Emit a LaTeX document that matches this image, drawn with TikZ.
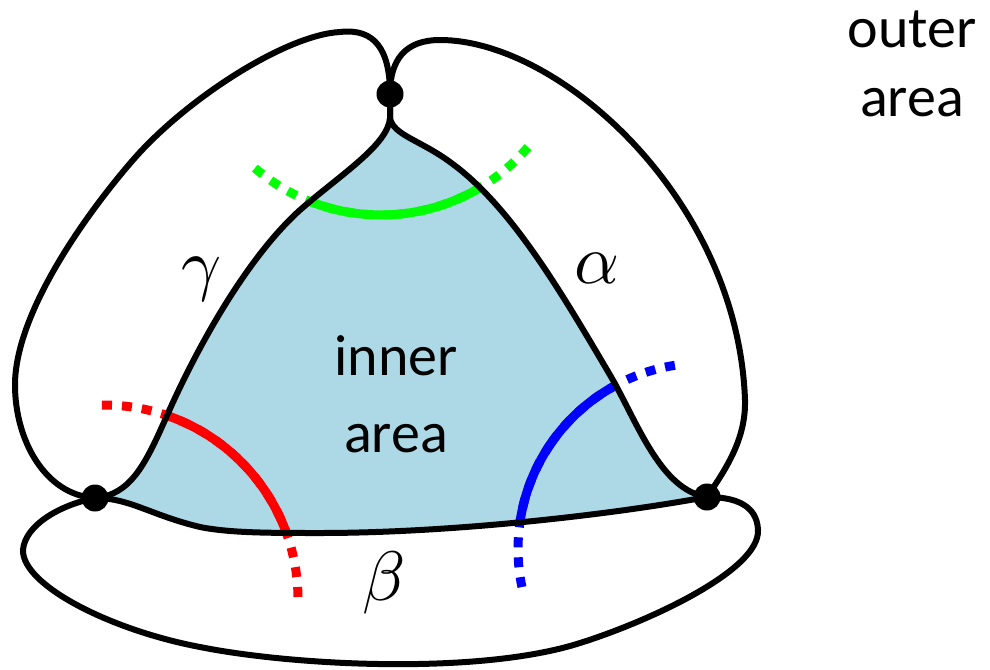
\documentclass[tikz,border=0pt]{standalone}
\usepackage{graphicx}
\usepackage{fontspec}
\setmainfont{Carlito}
\definecolor{innerfill}{RGB}{173,216,230}
\definecolor{cutgreen}{RGB}{0,255,0}
\definecolor{cutred}{RGB}{255,0,0}
\definecolor{cutblue}{RGB}{0,0,255}
\tikzset{
  edge/.style={line width=6pt, draw=black},
  vertex/.style={circle, fill=black, inner sep=0pt, minimum size=27pt},
  cutsolid/.style={line width=9pt},
  cutdot/.style={line width=9pt, dash pattern=on 10pt off 10pt},
  lblouter/.style={font=\fontsize{58}{69}\selectfont, align=center, inner sep=0pt},
  lblinner/.style={font=\fontsize{58}{77}\selectfont, align=center, inner sep=0pt},
  greek/.style={inner sep=0pt},
}
\newcommand{\biggreek}[1]{\scalebox{7}{$#1$}}
\def\innerpath{(390,118) .. controls (388,145) and (340,175) .. (300,210)
  .. controls (250,255) and (200,340) .. (165,420)
  .. controls (145,465) and (130,495) .. (L)
  .. controls (130,498) and (150,515) .. (200,527)
  .. controls (230,533) and (270,533) .. (320,533)
  .. controls (450,533) and (610,515) .. (R)
  .. controls (660,490) and (637,421) .. (610,375)
  .. controls (560,290) and (510,205) .. (450,162)
  .. controls (420,140) and (393,135) .. (390,118) -- cycle}
\begin{document}
\begin{tikzpicture}[x=1pt,y=-1pt]
\useasboundingbox (0,0) rectangle (990,669);
\coordinate (T) at (390,94);
\coordinate (L) at (95,498);
\coordinate (R) at (707,497);
% inner area
\fill[innerfill] \innerpath;
% dotted parts of the cuts
\draw[cutdot, cutgreen] plot[domain=0:1, samples=40, variable=\t] ({381+193*cos(130.8-45.2*\t)}, {22+193*sin(130.8-45.2*\t)});
\draw[cutdot, cutgreen] plot[domain=0:1, samples=40, variable=\t] ({381+193*cos(40.4+45.2*\t)}, {22+193*sin(40.4+45.2*\t)});
\draw[cutdot, cutred] plot[domain=0:1, samples=40, variable=\t] ({104+194*cos(269.4+45*\t)}, {599+194*sin(269.4+45*\t)});
\draw[cutdot, cutred] plot[domain=0:1, samples=40, variable=\t] ({104+194*cos(359.4-45*\t)}, {599+194*sin(359.4-45*\t)});
\draw[cutdot, cutblue] plot[domain=0:1, samples=40, variable=\t] ({704+186*cos(261-46.4*\t)}, {549+186*sin(261-46.4*\t)});
\draw[cutdot, cutblue] plot[domain=0:1, samples=40, variable=\t] ({704+186*cos(168.2+46.4*\t)}, {549+186*sin(168.2+46.4*\t)});
% solid parts inside the inner area
\begin{scope}
  \clip \innerpath;
  \draw[cutsolid, cutgreen] plot[domain=40.4:130.8, samples=60] ({381+193*cos(\x)}, {22+193*sin(\x)});
  \draw[cutsolid, cutred] plot[domain=269.4:359.4, samples=60] ({104+194*cos(\x)}, {599+194*sin(\x)});
  \draw[cutsolid, cutblue] plot[domain=168.2:261, samples=60] ({704+186*cos(\x)}, {549+186*sin(\x)});
\end{scope}
% inner edges
\draw[edge] (T) -- (390,118) .. controls (388,145) and (340,175) .. (300,210)
  .. controls (250,255) and (200,340) .. (165,420)
  .. controls (145,465) and (130,495) .. (L);
\draw[edge] (L) .. controls (130,498) and (150,515) .. (200,527)
  .. controls (230,533) and (270,533) .. (320,533)
  .. controls (450,533) and (610,515) .. (R);
\draw[edge] (R) .. controls (660,490) and (637,421) .. (610,375)
  .. controls (560,290) and (510,205) .. (450,162)
  .. controls (420,140) and (393,135) .. (390,118) -- (T);
% outer loops
\draw[edge] (T) .. controls (390,50) and (375,28) .. (340,32)
  .. controls (285,35) and (185,100) .. (133,160)
  .. controls (92,207) and (15,310) .. (15,385)
  .. controls (15,440) and (45,495) .. (L);
\draw[edge] (T) .. controls (390,60) and (405,40) .. (440,40)
  .. controls (560,40) and (738,200) .. (745,400)
  .. controls (746,440) and (725,470) .. (R);
\draw[edge] (L) .. controls (60,505) and (25,525) .. (23,550)
  .. controls (22,585) and (110,630) .. (200,647)
  .. controls (295,666) and (480,675) .. (580,643)
  .. controls (650,621) and (760,570) .. (758,530)
  .. controls (757,505) and (735,497) .. (R);
% vertices
\node[vertex] (vT) at (T) {};
\node[vertex] (vL) at (L) {};
\node[vertex] (vR) at (R) {};
% labels
\node[greek] (gam) at (202,279) {\biggreek{\gamma}};
\node[greek] (alp) at (597,268) {\biggreek{\alpha}};
\node[greek] (bet) at (384,583) {\biggreek{\beta}};
\node[lblinner, anchor=base] (inner) at (396,452) {inner\\area};
\node[lblouter, anchor=base] (outer) at (912,116) {outer\\area};
\end{tikzpicture}
\end{document}
